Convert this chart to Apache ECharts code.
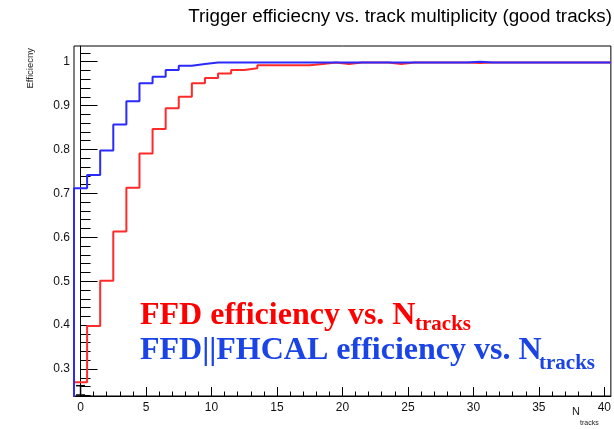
<!DOCTYPE html>
<html><head><meta charset="utf-8">
<script src="https://cdn.jsdelivr.net/npm/echarts@6/dist/echarts.min.js"></script>
<style>html,body{margin:0;padding:0;background:#fff}#c{width:614px;height:429px}</style>
</head><body><div id="c"></div>
<script>
// ---- data ----
const nTracks = [0,1,2,3,4,5,6,7,8,9,10,11,12,13,14,15,16,17,18,19,20,21,22,23,24,25,26,27,28,29,30,31,32,33,34,35,36,37,38,39,40];
const ffdEff = [0.270,0.398,0.501,0.613,0.713,0.791,0.847,0.894,0.920,0.951,0.963,0.973,0.981,0.985,0.992,0.992,0.992,0.992,0.995,0.998,0.995,0.998,0.998,0.998,0.995,0.998,0.998,0.998,0.998,0.998,0.997,0.998,0.998,0.998,0.998,0.998,0.998,0.998,0.998,0.998,0.998];
const ffdFhcalEff = [0.712,0.742,0.798,0.857,0.910,0.951,0.966,0.981,0.991,0.995,0.998,0.998,0.998,0.998,0.998,0.998,0.998,0.998,0.998,0.998,0.998,0.998,0.998,0.998,0.998,0.998,0.998,0.998,0.998,0.998,1.000,0.998,0.998,0.998,0.998,0.998,0.998,0.998,0.998,0.998,0.998];
const errBarBin = [0];
const errBarLow = [0.2385];
const errBarHigh = [0.262];
const xMajorTicks = [0,5,10,15,20,25,30,35,40];
const xMinorTicks = nTracks;
const yMajorTicks = [0.3,0.4,0.5,0.6,0.7,0.8,0.9,1.0];
const yMinorTicks = [0.24,0.26,0.28,0.30,0.32,0.34,0.36,0.38,0.40,0.42,0.44,0.46,0.48,0.50,0.52,0.54,0.56,0.58,0.60,0.62,0.64,0.66,0.68,0.70,0.72,0.74,0.76,0.78,0.80,0.82,0.84,0.86,0.88,0.90,0.92,0.94,0.96,0.98,1.00,1.02];
const titleText = 'Trigger efficiecny vs. track multiplicity (good tracks)';
const yTitle = 'Efficiecny';

// histogram -> step outline (bin width 1, centred on integers)
function stepPath(xs, ys) {
  const pts = [[xs[0] - 0.5, 0]];
  for (let i = 0; i < xs.length; i++) {
    pts.push([xs[i] - 0.5, ys[i]]);
    pts.push([xs[i] + 0.5, ys[i]]);
  }
  return pts;
}

const X_MIN = -0.5, X_MAX = 40.5, Y_MIN = 0.2385, Y_MAX = 1.0358;
const lab = {fontFamily: '"Liberation Sans", Arial, sans-serif', fontSize: 12, color: '#111'};
const serifB = '"Liberation Serif", "Times New Roman", serif';

const chart = echarts.init(document.getElementById('c'), null, {renderer: 'canvas'});
chart.setOption({
  animation: false,
  backgroundColor: '#fff',
  grid: {left: 74, right: 2, top: 46, bottom: 33, show: true, borderColor: '#000', borderWidth: 1, backgroundColor: 'transparent'},
  xAxis: [
    {type: 'value', min: X_MIN, max: X_MAX, position: 'bottom',
     axisLine: {show: true, lineStyle: {color: '#000', width: 1}},
     axisTick: {show: true, inside: true, length: 9, customValues: xMajorTicks, lineStyle: {color: '#000'}},
     axisLabel: {show: true, customValues: xMajorTicks, margin: 6, ...lab},
     splitLine: {show: false}},
    {type: 'value', min: X_MIN, max: X_MAX, position: 'bottom',
     axisLine: {show: false},
     axisTick: {show: true, inside: true, length: 4.5, customValues: xMinorTicks, lineStyle: {color: '#000'}},
     axisLabel: {show: false}, splitLine: {show: false}}
  ],
  yAxis: [
    {type: 'value', min: Y_MIN, max: Y_MAX, position: 'left',
     axisLine: {show: true, lineStyle: {color: '#000', width: 1}},
     axisTick: {show: true, inside: true, length: 17, customValues: yMajorTicks, lineStyle: {color: '#000'}},
     axisLabel: {show: true, customValues: yMajorTicks, margin: 4, ...lab},
     splitLine: {show: false}},
    {type: 'value', min: Y_MIN, max: Y_MAX, position: 'left',
     axisLine: {show: false},
     axisTick: {show: true, inside: true, length: 10, customValues: yMinorTicks, lineStyle: {color: '#000'}},
     axisLabel: {show: false}, splitLine: {show: false}}
  ],
  series: [
    {type: 'line', name: 'FFD', data: stepPath(nTracks, ffdEff), showSymbol: false, symbol: 'none', clip: true,
     lineStyle: {color: '#ff2a2a', width: 2}, z: 3},
    {type: 'line', name: 'FFD||FHCAL', data: stepPath(nTracks, ffdFhcalEff), showSymbol: false, symbol: 'none', clip: true,
     lineStyle: {color: '#2a2aff', width: 2}, z: 4},
    {type: 'custom', name: 'err', clip: true, z: 5,
     data: errBarBin.map((b, i) => [b, errBarLow[i], errBarHigh[i]]),
     renderItem: function (params, api) {
       const lo = api.coord([api.value(0), api.value(1)]);
       const hi = api.coord([api.value(0), api.value(2)]);
       const w = 4.5;
       return {type: 'group', children: [
         {type: 'line', shape: {x1: lo[0], y1: lo[1], x2: hi[0], y2: hi[1]}, style: {stroke: '#000', lineWidth: 1.5}},
         {type: 'line', shape: {x1: hi[0] - w, y1: hi[1], x2: hi[0] + w, y2: hi[1]}, style: {stroke: '#000', lineWidth: 1.5}},
         {type: 'line', shape: {x1: lo[0] - w, y1: lo[1] - 1, x2: lo[0] + w, y2: lo[1] - 1}, style: {stroke: '#000', lineWidth: 1.5}}
       ]};
     }}
  ],
  graphic: [
    {type: 'text', x: 612, y: 17, style: {text: titleText, font: '18.8px "Liberation Sans", Arial, sans-serif', fill: '#000', align: 'right', verticalAlign: 'middle'}},
    {type: 'text', x: 30, y: 48, rotation: Math.PI / 2, style: {text: yTitle, font: '9.5px "Liberation Sans", Arial, sans-serif', fill: '#222', align: 'right', verticalAlign: 'middle'}},
    {type: 'text', x: 580, y: 412, style: {text: 'N', font: '11px "Liberation Sans", Arial, sans-serif', fill: '#222', align: 'right', verticalAlign: 'middle'}},
    {type: 'text', x: 580, y: 423, style: {text: 'tracks', font: '7px "Liberation Sans", Arial, sans-serif', fill: '#222', align: 'left', verticalAlign: 'middle'}},
    {type: 'text', x: 140, y: 315.5, style: {text: 'FFD efficiency vs. N', font: 'bold 32px ' + serifB, fill: '#ff0000', align: 'left', verticalAlign: 'middle'}},
    {type: 'text', x: 415, y: 325, style: {text: 'tracks', font: 'bold 21px ' + serifB, fill: '#ff0000', align: 'left', verticalAlign: 'middle'}},
    {type: 'text', x: 140, y: 351, style: {text: 'FFD||FHCAL efficiency vs. N', font: 'bold 32px ' + serifB, fill: '#1a44e6', align: 'left', verticalAlign: 'middle'}},
    {type: 'text', x: 539, y: 363.5, style: {text: 'tracks', font: 'bold 21px ' + serifB, fill: '#1a44e6', align: 'left', verticalAlign: 'middle'}}
  ]
});
</script></body></html>
